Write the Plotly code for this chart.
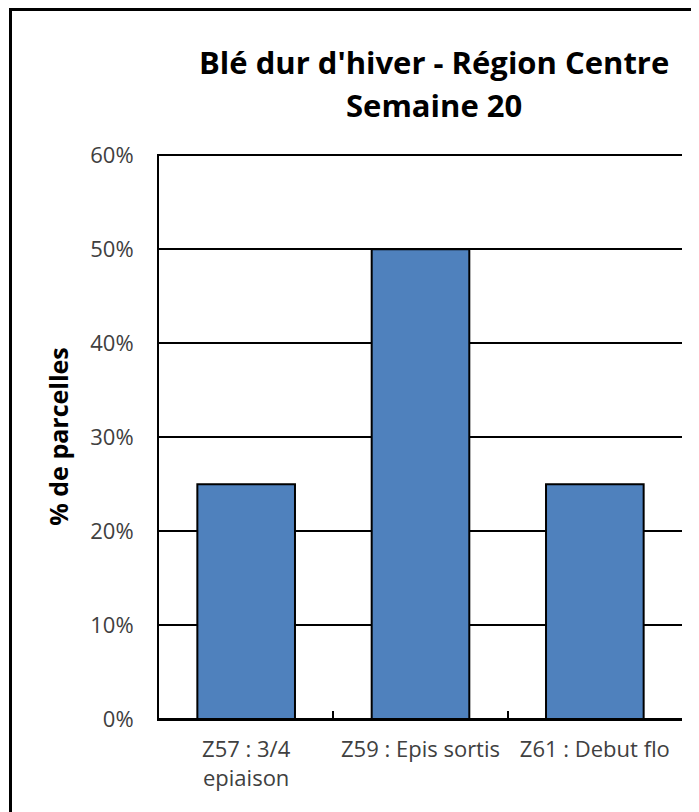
import plotly.graph_objects as go

categories = ["Z57 : 3/4<br>epiaison", "Z59 : Epis sortis", "Z61 : Debut flo"]
values = [0.25, 0.50, 0.25]
y_ticks = [0, 0.1, 0.2, 0.3, 0.4, 0.5, 0.6]
title_lines = ["Blé dur d'hiver - Région Centre", "Semaine 20"]
y_title = "% de parcelles"

# page has an 8px body margin; figure sized to fit the window
OFF = 8
W, H = 691, 804
ml, mr, mt, mb = 151, 17, 146, 93
pw, ph = W - ml - mr, H - mt - mb

FONT = "Open Sans"

fig = go.Figure(go.Bar(
    x=categories, y=values,
    marker=dict(color="#4F81BD", line=dict(color="#000000", width=2)),
))

def px_to_paper_x(px):
    # px given in page coordinates
    return (px - OFF - ml) / pw

def px_to_paper_y(py):
    return (H - mb - (py - OFF)) / ph

fig.update_layout(
    width=W, height=H,
    margin=dict(l=ml, r=mr, t=mt, b=mb),
    paper_bgcolor="white", plot_bgcolor="white",
    bargap=0.44,
    showlegend=False,
    font=dict(family=FONT, color="#404040", size=22),
    xaxis=dict(
        showline=True, linecolor="black", linewidth=2,
        ticks="inside", tickson="boundaries", ticklen=8, tickwidth=2, tickcolor="black",
        showgrid=False, tickfont=dict(size=22, color="#404040"),
        ticklabelstandoff=10,
    ),
    yaxis=dict(
        range=[0, 0.6015], tickvals=y_ticks, tickformat=".0%",
        showgrid=True, gridcolor="black", gridwidth=2,
        zeroline=True, zerolinecolor="black", zerolinewidth=2,
        showline=True, linecolor="black", linewidth=2,
        ticks="", ticklabelstandoff=19,
        tickfont=dict(size=22, color="#404040"),
        title=dict(text=y_title, font=dict(size=25, color="black", family=FONT, weight="bold"), standoff=14),
    ),
    annotations=[
        dict(text=title_lines[0], x=px_to_paper_x(434), y=px_to_paper_y(62), xref="paper", yref="paper",
             showarrow=False, font=dict(size=31, color="black", family=FONT, weight="bold"),
             xanchor="center", yanchor="middle"),
        dict(text=title_lines[1], x=px_to_paper_x(434), y=px_to_paper_y(105), xref="paper", yref="paper",
             showarrow=False, font=dict(size=31, color="black", family=FONT, weight="bold"),
             xanchor="center", yanchor="middle"),
    ],
    shapes=[
        dict(type="rect", xref="paper", yref="paper",
             x0=px_to_paper_x(10.5), x1=px_to_paper_x(720),
             y0=px_to_paper_y(830), y1=px_to_paper_y(9.5),
             line=dict(color="black", width=3), fillcolor="rgba(0,0,0,0)", layer="above"),
    ],
)

fig.write_html("out.html")
